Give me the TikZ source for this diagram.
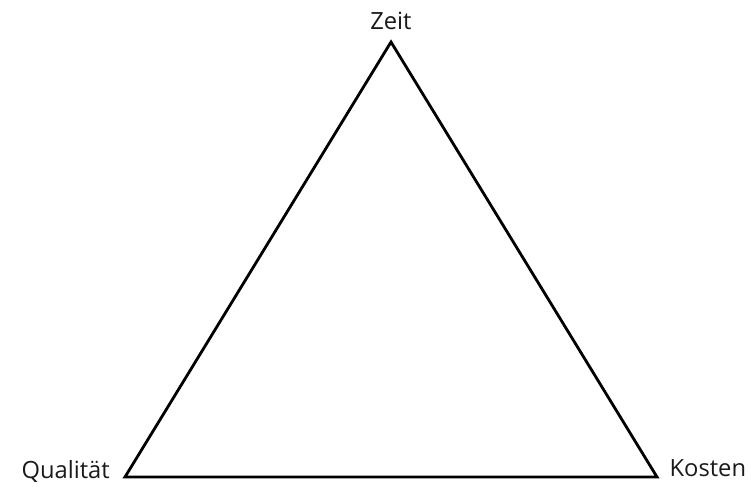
\documentclass[tikz,border=0pt]{standalone}
\usepackage{fontspec}
\setmainfont{Open Sans}
\usetikzlibrary{positioning}
\definecolor{negro}{HTML}{000000}
\definecolor{grisTexto}{HTML}{1A1A1A}
\tikzset{
  lado/.style={draw=negro, line width=1.6pt, line join=miter},
  etiquetaVertice/.style={font=\fontsize{13.5}{15}\selectfont, text=grisTexto, inner sep=0pt},
}
\begin{document}
\begin{tikzpicture}[x=0.02cm, y=-0.02cm]
    \useasboundingbox (0,0) rectangle (751,489);
    \coordinate (zeit) at (391,42);
    \coordinate (qual) at (125,477);
    \coordinate (kost) at (657,477);
    \draw[lado] (zeit) -- (kost) -- (qual) -- cycle;
    \node[etiquetaVertice, anchor=base] (tZeit) at ([yshift=7pt]zeit) {Zeit};
    \node[etiquetaVertice, anchor=base east] (tQual) at ([xshift=-8.5pt,yshift=-1pt]qual) {Qualität};
    \node[etiquetaVertice, anchor=base west] (tKost) at ([xshift=7pt,yshift=0.5pt]kost) {Kosten};
\end{tikzpicture}
\end{document}
